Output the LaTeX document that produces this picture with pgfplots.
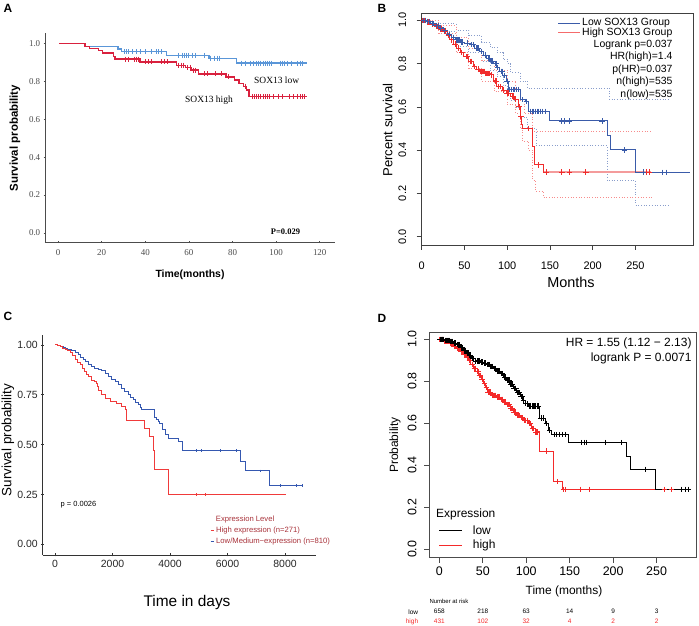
\documentclass[border=0pt]{standalone}
\usepackage{fontspec}
\setmainfont{Liberation Sans}
\newfontfamily\serif{Liberation Serif}
\usepackage{pgfplots}
\usepackage{pgfplotstable}
\pgfplotsset{compat=1.18}

\newcommand\fs[1]{\fontsize{#1}{#1}\selectfont}

\definecolor{Ablue}{HTML}{5A96D8}
\definecolor{Ared}{HTML}{D9213E}
\definecolor{Bblue}{HTML}{3A5BA9}
\definecolor{Bred}{HTML}{F02C2C}
\definecolor{Bpink}{HTML}{F49B9B}
\definecolor{Cblue}{HTML}{3558B0}
\definecolor{Cred}{HTML}{F03A3A}
\definecolor{Ctext}{HTML}{A8323A}
\definecolor{Dred}{HTML}{F42A2A}

% ---------- panel A ----------
\pgfplotstableread{
t s
0.5 1.0
12.4 0.984
27.5 0.972
29 0.958
49.8 0.938
69.2 0.923
81.9 0.897
114 0.897
}\Alow
\pgfplotstableread{
t s
30.5 0.958
31.5 0.958
32.5 0.958
34 0.958
36 0.958
38 0.958
40 0.958
43 0.958
45 0.958
46 0.958
47.5 0.958
55 0.938
57 0.938
58 0.938
59 0.938
60 0.938
61.5 0.938
63 0.938
67 0.938
70 0.923
71.5 0.923
73 0.923
74 0.923
84 0.897
86 0.897
88 0.897
89.5 0.897
91 0.897
92 0.897
93 0.897
94 0.897
95 0.897
96 0.897
97 0.897
98 0.897
102 0.897
103 0.897
104 0.897
105 0.897
107 0.897
110 0.897
111 0.897
112 0.897
}\Alowc
\pgfplotstableread{
t s
0.5 1.0
12.4 0.985
14.4 0.974
18.5 0.962
20.3 0.950
25.3 0.932
26.1 0.918
37.6 0.903
54.4 0.886
58.5 0.875
61 0.860
64.3 0.840
77 0.824
81 0.808
83 0.790
85 0.775
86.5 0.755
87.5 0.720
114 0.720
}\Ahigh
\pgfplotstableread{
t s
31 0.918
32.5 0.918
35 0.918
36 0.918
37 0.918
40 0.903
41.5 0.903
43 0.903
47.5 0.903
49 0.903
50 0.903
55 0.886
56.5 0.886
57.5 0.886
59.5 0.875
60.5 0.875
62 0.860
63 0.860
67 0.840
68.5 0.840
72 0.840
75 0.840
78 0.824
86 0.775
89 0.72
90 0.72
91 0.72
92 0.72
93 0.72
94 0.72
95 0.72
96 0.72
97 0.72
99 0.72
101 0.72
103 0.72
106 0.72
108 0.72
110 0.72
111 0.72
112 0.72
113 0.72
}\Ahighc

% ---------- panel B ----------
\pgfplotstableread{
t s
0 1.0
5 0.995
10 0.985
15 0.975
20 0.965
25 0.952
30 0.935
35 0.922
40 0.91
45 0.90
50 0.895
56 0.887
62 0.872
68 0.856
72 0.84
76 0.826
80 0.812
84 0.80
88 0.783
91.5 0.764
95 0.745
99 0.718
102 0.68
115 0.633
121 0.625
124.6 0.579
149 0.535
217 0.466
220.5 0.401
250 0.298
313 0.295
}\Blow
\pgfplotstableread{
t s
2 1.0
4 1.0
7 0.995
9 0.995
12 0.985
14 0.985
17 0.975
19 0.975
22 0.965
27 0.952
32 0.935
37 0.922
41 0.91
42 0.91
43 0.91
44 0.91
47 0.90
48 0.90
53 0.895
54 0.895
58 0.887
60 0.887
64 0.872
65 0.872
66 0.872
70 0.856
74 0.84
78 0.826
79 0.826
82 0.812
83 0.812
86 0.80
87 0.80
89 0.783
93 0.764
94 0.764
97 0.745
100 0.718
103 0.68
105 0.68
107 0.68
109 0.68
111 0.68
113 0.68
118 0.633
122.5 0.625
127 0.579
129 0.579
131 0.579
133 0.579
135 0.579
137 0.579
139 0.579
141 0.579
145 0.579
164 0.535
167 0.535
173 0.535
211 0.535
237 0.401
259 0.298
282 0.297
286 0.297
}\Blowc
\pgfplotstableread{
t s
0 1.0
5 0.993
10 0.983
15 0.972
20 0.96
25 0.95
30 0.93
33 0.91
37 0.89
41 0.872
45 0.852
49 0.833
55 0.81
60 0.787
64 0.775
68 0.764
74 0.755
80 0.748
84 0.72
88 0.694
94 0.678
99 0.664
104 0.65
109 0.633
113 0.60
115 0.556
117 0.52
118 0.50
129.5 0.417
131.5 0.332
143 0.298
268.7 0.298
}\Bhigh
\pgfplotstableread{
t s
1 1.0
3 1.0
7 0.993
8 0.993
12 0.983
13 0.983
17 0.972
18 0.972
22 0.96
23 0.96
27 0.95
28 0.95
31 0.93
35 0.91
39 0.89
43 0.872
47 0.852
52 0.833
53 0.833
57 0.81
58 0.81
62 0.787
66 0.775
69 0.764
70 0.764
71 0.764
72 0.764
73 0.764
75 0.755
76 0.755
77 0.755
78 0.755
79 0.755
81 0.748
82 0.748
86 0.72
87 0.72
90 0.694
92 0.694
96 0.678
100 0.664
102 0.664
106 0.65
107 0.65
110 0.633
114 0.60
116 0.556
125 0.50
137 0.332
146 0.298
164 0.298
173 0.298
192 0.298
259 0.298
263 0.298
266 0.298
}\Bhighc
\pgfplotstableread{
t s
0 1.0
20 0.985
40 0.955
55 0.93
70 0.90
80 0.875
88 0.85
95 0.82
100 0.80
104 0.76
115 0.72
124 0.685
220 0.633
290 0.633
}\Blowup
\pgfplotstableread{
t s
0 1.0
20 0.95
40 0.88
55 0.85
70 0.81
80 0.77
88 0.74
95 0.70
100 0.66
104 0.63
110 0.60
115 0.55
124 0.50
134 0.42
217 0.26
250 0.147
290 0.147
}\Blowlo
\pgfplotstableread{
t s
0 1.0
20 0.975
40 0.92
55 0.87
70 0.815
85 0.77
100 0.72
110 0.68
115 0.63
120 0.57
130 0.487
268.7 0.487
}\Bhighup
\pgfplotstableread{
t s
0 1.0
20 0.94
40 0.85
55 0.78
70 0.72
85 0.67
100 0.61
110 0.57
115 0.50
118 0.44
125 0.40
130 0.26
133 0.21
142 0.182
268.7 0.182
}\Bhighlo

% ---------- panel C ----------
\pgfplotstableread{
t s
0 1.0
100 0.997
200 0.992
280 0.988
348 0.983
450 0.978
580 0.970
700 0.962
812 0.950
900 0.938
985 0.925
1070 0.915
1159 0.903
1280 0.893
1391 0.883
1500 0.877
1623 0.870
1740 0.856
1855 0.841
1970 0.829
2087 0.816
2200 0.800
2319 0.783
2430 0.766
2551 0.749
2640 0.737
2725 0.724
2810 0.711
2899 0.699
2960 0.686
3014 0.674
3478 0.635
3540 0.625
3600 0.615
3650 0.607
3733 0.574
3840 0.553
3942 0.532
4290 0.518
4430 0.470
6458 0.415
6609 0.368
7478 0.294
8638 0.294
}\Clow
\pgfplotstableread{
t s
4928 0.47
5101 0.47
5739 0.47
6320 0.47
7154 0.368
7826 0.294
8406 0.294
8615 0.294
}\Clowc
\pgfplotstableread{
t s
0 1.0
90 0.995
174 0.99
260 0.983
348 0.975
430 0.970
522 0.963
610 0.945
696 0.925
780 0.912
870 0.900
960 0.883
1043 0.866
1100 0.853
1159 0.841
1275 0.824
1360 0.815
1449 0.807
1480 0.790
1507 0.774
1623 0.749
1739 0.732
1913 0.716
2145 0.707
2319 0.691
2435 0.674
2493 0.619
3130 0.579
3270 0.540
3420 0.473
3450 0.430
3478 0.375
3965 0.250
8035 0.250
}\Chigh
\pgfplotstableread{
t s
4928 0.25
5217 0.25
}\Chighc

% ---------- panel D ----------
\pgfplotstableread{
t s
0 1.0
6 0.995
12.3 0.99
16 0.982
20 0.974
24 0.96
27.7 0.947
31 0.933
33.4 0.924
37 0.908
41 0.897
47 0.892
51 0.886
54.5 0.879
58 0.87
62 0.86
66 0.848
70 0.836
74 0.82
77.5 0.805
81 0.787
85 0.766
89 0.746
93 0.726
96 0.71
98.6 0.694
102.4 0.682
115.5 0.625
121.6 0.6
125.4 0.568
129 0.546
148 0.508
214.7 0.441
219.3 0.381
248.1 0.286
290 0.286
}\Dlow
\pgfplotstableread{
t s
1 1.0
2 1.0
3 1.0
4 1.0
5 1.0
7 0.995
8 0.995
9 0.995
10 0.995
11 0.995
13 0.99
14 0.99
15 0.99
17 0.982
18 0.982
19 0.982
21 0.974
22 0.974
23 0.974
25 0.96
26 0.96
27 0.96
28.5 0.947
29.5 0.947
30.5 0.947
32 0.933
33 0.933
34.5 0.924
36 0.924
38 0.908
39.5 0.908
42 0.897
43.5 0.897
45 0.897
46 0.897
48 0.892
49 0.892
50 0.892
52 0.886
53 0.886
55.5 0.879
56.5 0.879
57.5 0.879
59 0.87
60 0.87
61 0.87
63 0.86
64 0.86
65 0.86
67 0.848
68 0.848
69 0.848
71 0.836
72 0.836
73 0.836
75 0.82
76 0.82
78.5 0.805
79.5 0.805
80.5 0.805
82 0.787
83 0.787
84 0.787
86 0.766
87 0.766
88 0.766
90 0.746
91 0.746
92 0.746
94 0.726
95 0.726
97 0.71
99.5 0.694
101 0.694
103.5 0.682
105 0.682
106.5 0.682
108 0.682
109.5 0.682
111 0.682
112.5 0.682
114 0.682
117 0.625
120 0.625
123 0.6
127 0.568
132 0.546
135 0.546
138 0.546
141 0.546
145 0.546
163.7 0.508
166.4 0.508
169.5 0.508
190.6 0.508
209 0.508
236.6 0.381
279 0.286
283 0.286
287 0.286
}\Dlowc
\pgfplotstableread{
t s
0 1.0
5 0.99
12.3 0.979
16 0.967
20 0.955
24 0.94
27.7 0.927
31 0.912
33.4 0.9
36 0.88
39 0.86
42 0.845
44.9 0.828
48 0.81
50.7 0.789
53 0.77
55.3 0.749
60.2 0.733
66 0.725
70 0.714
73.7 0.701
77 0.688
81.3 0.669
85 0.653
89 0.638
93 0.626
96.7 0.614
102.4 0.598
106.2 0.575
110 0.559
115 0.468
131.2 0.322
141.5 0.286
268 0.286
}\Dhigh
\pgfplotstableread{
t s
0.5 1.0
1.5 1.0
2.5 1.0
3.5 1.0
4.5 1.0
6 0.99
7 0.99
8 0.99
9 0.99
10 0.99
11 0.99
12 0.99
13 0.979
14 0.979
15 0.979
17 0.967
18 0.967
19 0.967
21 0.955
22 0.955
23 0.955
25 0.94
26 0.94
27 0.94
28.5 0.927
29.5 0.927
30.5 0.927
32 0.912
33 0.912
34.5 0.9
35.5 0.9
37.5 0.88
38.5 0.88
40.5 0.86
41.5 0.86
43.5 0.845
44.5 0.845
46 0.828
47 0.828
49 0.81
50 0.81
52 0.789
54 0.77
56 0.749
57 0.749
58 0.749
59 0.749
61 0.733
62 0.733
63 0.733
64 0.733
65 0.733
67 0.725
68 0.725
69 0.725
71 0.714
72 0.714
73 0.714
75 0.701
76 0.701
78 0.688
79 0.688
80 0.688
82 0.669
83 0.669
84 0.669
86 0.653
87 0.653
88 0.653
90 0.638
91 0.638
92 0.638
94 0.626
95 0.626
98 0.614
99 0.614
101 0.614
103.5 0.598
105 0.598
107 0.575
108.5 0.575
111 0.559
112 0.559
113 0.559
123.5 0.468
135.7 0.322
142.6 0.286
144.6 0.286
162.6 0.286
172.5 0.286
258.8 0.286
267.2 0.286
}\Dhighc

\pgfplotsset{
  panel/.style={
    scale only axis, anchor=south west,
    tick align=outside, tick pos=left,
    /pgf/number format/assume math mode=true,
  },
  onedec/.style={y tick label style={/pgf/number format/.cd, fixed, fixed zerofill, precision=1, /tikz/.cd}},
  km/.style={const plot, no marks},
}

\begin{document}
\begin{tikzpicture}
\useasboundingbox (0,0) rectangle (699bp,626bp);

% ================= A =================
\begin{axis}[panel, onedec, at={(45bp,384bp)}, width=290bp, height=209bp,
  xmin=-6, xmax=127, ymin=-0.048, ymax=1.056,
  axis lines=left, axis line style={-, draw=black!70, line width=0.8bp},
  xtick={0,20,40,60,80,100,120}, ytick={0,0.2,0.4,0.6,0.8,1},
  tick label style={font=\serif\fs{9}, text=black!70},
  xticklabel shift=3bp,
  major tick length=2.5bp, tick style={draw=black!70, line width=0.6bp},
]
\addplot[km, Ablue, line width=1.3bp] table {\Alow};
\addplot[km, Ared, line width=1.3bp] table {\Ahigh};
\addplot[only marks, mark=|, mark size=2.5bp, Ablue, mark options={line width=0.9bp}] table {\Alowc};
\addplot[only marks, mark=|, mark size=2.5bp, Ared, mark options={line width=0.9bp}] table {\Ahighc};
\end{axis}

% ================= B =================
\begin{axis}[panel, onedec, at={(421.7bp,381bp)}, width=271.3bp, height=232bp,
  xmin=0, xmax=317.4, ymin=-0.0386, ymax=1.034,
  axis line style={draw=black!75, line width=0.7bp},
  xtick={0,50,100,150,200,250}, ytick={0,0.2,0.4,0.6,0.8,1},
  tick label style={font=\fs{11}},
  y tick label style={rotate=90, anchor=south},
  xticklabel shift=8bp, yticklabel shift=7bp,
  major tick length=5bp, tick style={draw=black!75, line width=0.6bp},
]
\addplot[km, Bblue!60, dotted, line width=0.7bp] table {\Blowup};
\addplot[km, Bblue!60, dotted, line width=0.7bp] table {\Blowlo};
\addplot[km, Bred!55, dotted, line width=0.7bp] table {\Bhighup};
\addplot[km, Bred!55, dotted, line width=0.7bp] table {\Bhighlo};
\addplot[km, Bred, line width=0.9bp] table {\Bhigh};
\addplot[Bpink, line width=1.6bp] coordinates {(143,0.298) (268.7,0.298)};
\addplot[km, Bblue, line width=0.9bp] table {\Blow};
\addplot[only marks, mark=+, mark size=2.7bp, Bred, mark options={line width=0.8bp}] table {\Bhighc};
\addplot[only marks, mark=+, mark size=2.7bp, Bblue, mark options={line width=0.8bp}] table {\Blowc};
\end{axis}

% ================= C =================
\begin{axis}[panel, at={(42.7bp,71bp)}, width=273.3bp, height=220bp,
  xmin=-428, xmax=9078, ymin=-0.0537, ymax=1.05,
  axis lines=left, axis line style={-, draw=black!80, line width=0.7bp},
  xtick={0,2000,4000,6000,8000}, ytick={0,0.25,0.5,0.75,1},
  scaled x ticks=false,
  x tick label style={/pgf/number format/set thousands separator={}},
  y tick label style={/pgf/number format/.cd, fixed, fixed zerofill, precision=2, /tikz/.cd},
  tick label style={font=\fs{10.5}, text=black!85},
  major tick length=3bp, tick style={draw=black!80, line width=0.6bp},
]
\addplot[km, Cblue, line width=1.0bp] table {\Clow};
\addplot[km, Cred, line width=1.0bp] table {\Chigh};
\addplot[only marks, mark=|, mark size=1.3bp, Cblue, mark options={line width=0.5bp}] table {\Clowc};
\addplot[only marks, mark=|, mark size=1.3bp, Cred, mark options={line width=0.5bp}] table {\Chighc};
\end{axis}

% ================= D =================
\begin{axis}[panel, onedec, at={(429bp,68.3bp)}, width=267.7bp, height=225.4bp,
  xmin=-11.85, xmax=296.1, ymin=-0.04, ymax=1.033,
  axis line style={draw=black!70, line width=0.7bp},
  xtick={0,50,100,150,200,250}, ytick={0,0.2,0.4,0.6,0.8,1},
  tick label style={font=\fs{12.5}},
  y tick label style={rotate=90, anchor=south},
  xticklabel shift=1bp, yticklabel shift=4bp,
  major tick length=5bp, tick style={draw=black!70, line width=0.6bp},
]
\addplot[km, Dred, line width=0.8bp] table {\Dhigh};
\addplot[km, black, line width=0.8bp] table {\Dlow};
\addplot[only marks, mark=+, mark size=2.7bp, Dred, mark options={line width=0.7bp}] table {\Dhighc};
\addplot[only marks, mark=+, mark size=2.7bp, black, mark options={line width=0.7bp}] table {\Dlowc};
\end{axis}

% ---------- texts ----------
\begin{scope}[every node/.style={inner sep=0pt}]
% panel letters
\node[font=\bfseries\fs{12}] at (8bp,618bp) {A};
\node[font=\bfseries\fs{12}] at (382bp,617.5bp) {B};
\node[font=\bfseries\fs{12}] at (8bp,309.5bp) {C};
\node[font=\bfseries\fs{12}] at (382bp,307.5bp) {D};

% A
\node[font=\bfseries\fs{11.5}, rotate=90] at (15bp,488bp) {Survival probability};
\node[font=\bfseries\fs{10.5}] at (190bp,351bp) {Time(months)};
\node[font=\serif\fs{9.5}] at (276.7bp,546bp) {SOX13 low};
\node[font=\serif\fs{9.5}] at (209bp,526bp) {SOX13 high};
\node[font=\serif\bfseries\fs{8.5}] at (285.5bp,394bp) {P=0.029};

% B
\node[font=\fs{13.2}, rotate=90] at (387.7bp,496bp) {Percent survival};
\node[font=\fs{14.5}] at (571bp,344bp) {Months};
\draw[Bblue, line width=0.9bp] (558bp,602.7bp) -- (580bp,602.7bp);
\draw[Bred!70, line width=1.3bp] (558bp,593.3bp) -- (580bp,593.3bp);
\node[font=\fs{10.5}, anchor=west] at (582bp,602.7bp) {Low SOX13 Group};
\node[font=\fs{10.5}, anchor=west] at (582bp,593.3bp) {High SOX13 Group};
\node[font=\fs{10.5}, anchor=east] at (672.7bp,581bp) {Logrank p=0.037};
\node[font=\fs{10.5}, anchor=east] at (672.7bp,568.7bp) {HR(high)=1.4};
\node[font=\fs{10.5}, anchor=east] at (672.7bp,556.3bp) {p(HR)=0.037};
\node[font=\fs{10.5}, anchor=east] at (672.7bp,544bp) {n(high)=535};
\node[font=\fs{10.5}, anchor=east] at (672.7bp,531.3bp) {n(low)=535};

% C
\node[font=\fs{13.5}, rotate=90] at (8bp,186bp) {Survival probability};
\node[font=\fs{15.5}] at (187bp,23bp) {Time in days};
\node[font=\fs{7.5}] at (78.5bp,121.7bp) {p = 0.0026};
\node[font=\fs{7.7}, text=Ctext, anchor=west] at (215.7bp,106.7bp) {Expression Level};
\draw[Cred, line width=0.6bp] (210.5bp,95.3bp) -- (213.5bp,95.3bp);
\draw[Cblue, line width=0.6bp] (210.5bp,84.3bp) -- (213.5bp,84.3bp);
\node[font=\fs{7.7}, text=Ctext, anchor=west] at (216bp,95.3bp) {High expression (n=271)};
\node[font=\fs{7.7}, text=Ctext, anchor=west] at (216bp,84.3bp) {Low/Medium−expression (n=810)};

% D
\node[font=\fs{12}, rotate=90] at (395bp,181bp) {Probability};
\node[font=\fs{12}] at (564bp,35bp) {Time (months)};
\node[font=\fs{12}, anchor=east] at (691.7bp,282.7bp) {HR = 1.55 (1.12 − 2.13)};
\node[font=\fs{12}, anchor=east] at (691.7bp,267.7bp) {logrank P = 0.0071};
\node[font=\fs{12}, anchor=west] at (436bp,112bp) {Expression};
\draw[black, line width=0.8bp] (439bp,95.3bp) -- (462bp,95.3bp);
\draw[Dred, line width=0.8bp] (439bp,81bp) -- (462bp,81bp);
\node[font=\fs{12}, anchor=west] at (472.7bp,95.3bp) {low};
\node[font=\fs{12}, anchor=west] at (472.7bp,81bp) {high};
\node[font=\fs{6}, anchor=west] at (429.3bp,24.3bp) {Number at risk};
\node[font=\fs{6.5}, anchor=east] at (418.3bp,14.3bp) {low};
\node[font=\fs{6.5}, anchor=east, text=Dred] at (418.3bp,4.3bp) {high};
\foreach \x/\a/\b in {439.3/658/431, 482.8/218/102, 526.2/63/32, 569.7/14/4, 613.1/9/2, 656.6/3/2} {
  \node[font=\fs{6.5}] at (\x bp,14.3bp) {\a};
  \node[font=\fs{6.5}, text=Dred] at (\x bp,4.3bp) {\b};
}
\end{scope}
\end{tikzpicture}
\end{document}
